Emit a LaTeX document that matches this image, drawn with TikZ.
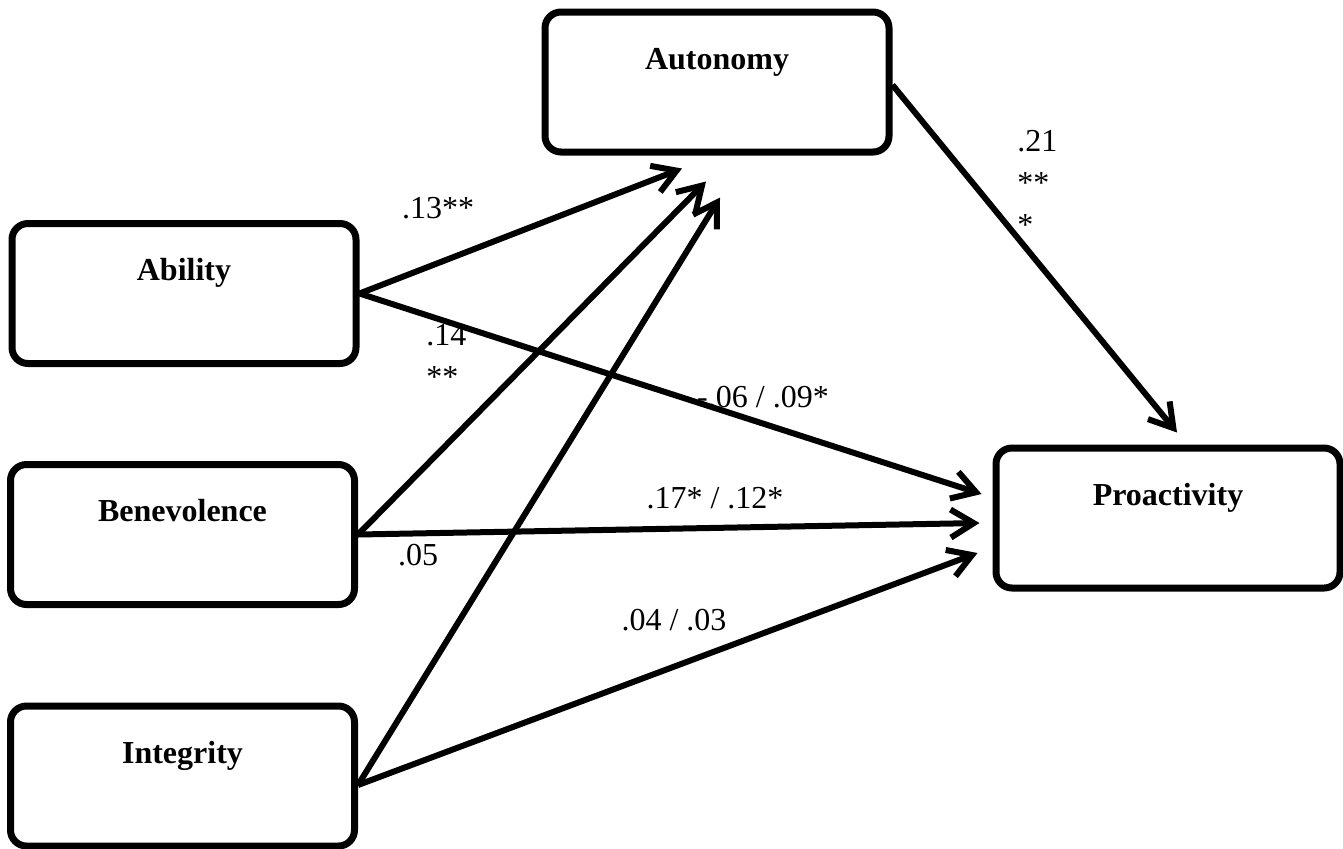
\documentclass[tikz,border=0pt]{standalone}
\usepackage{fontspec}
\setmainfont{Liberation Serif}
\usetikzlibrary{arrows.meta}

\tikzset{
  var/.style={draw, line width=3.5pt, rounded corners=8pt,
    minimum width=172pt, minimum height=70pt,
    font=\fontsize{16}{21}\selectfont\bfseries,
    text height=12pt, text depth=25pt},
  eff/.style={->, line width=3pt},
  coef/.style={inner sep=0pt, font=\fontsize{16}{21}\selectfont},
}

\begin{document}
\begin{tikzpicture}[x=0.5pt, y=-0.5pt, >={Straight Barb[length=11.5pt,width=14pt]}]
\useasboundingbox (0,0) rectangle (1343,848);
% constructs
\node[var] (abi) at (184,293.5) {Ability};
\node[var] (ben) at (182.5,534.5) {Benevolence};
\node[var] (int) at (182.5,776) {Integrity};
\node[var] (aut) at (717,82) {Autonomy};
\node[var] (pro) at (1168,518) {Proactivity};
% trust -> autonomy
\draw[eff] (abi.east) -- ([xshift=-17.5pt,yshift=-6.5pt]aut.south);
\draw[eff] (ben.east) -- ([xshift=-5.5pt,yshift=-13pt]aut.south);
\draw[eff] ([yshift=-4.5pt]int.east) -- ([xshift=1.5pt,yshift=-21pt]aut.south);
% trust -> proactivity
\draw[eff] (abi.east) -- ([xshift=-5.5pt,yshift=12pt]pro.west);
\draw[eff] (ben.east) -- ([xshift=-6.5pt,yshift=-2.5pt]pro.west);
\draw[eff] ([yshift=-4.5pt]int.east) -- ([xshift=-7.5pt,yshift=-17.5pt]pro.west);
% autonomy -> proactivity
\draw[eff] ([yshift=-1.5pt]aut.east) -- ([xshift=4.5pt,yshift=6pt]pro.north);
% coefficients
\node[coef] (c-abi-aut) at (438,208) {.13**};
\node[coef, align=left, anchor=north west] (c-ben-aut) at (426,324) {.14\\**};
\node[coef] (c-int-aut) at (418,555) {.05};
\node[coef] (c-abi-pro) at (763,397) {-.06 / .09*};
\node[coef] (c-ben-pro) at (715,498) {.17* / .12*};
\node[coef] (c-int-pro) at (674,620) {.04 / .03};
\node[coef, align=left, anchor=north west] (c-aut-pro) at (1017,130) {.21\\**\\*};
\end{tikzpicture}
\end{document}
